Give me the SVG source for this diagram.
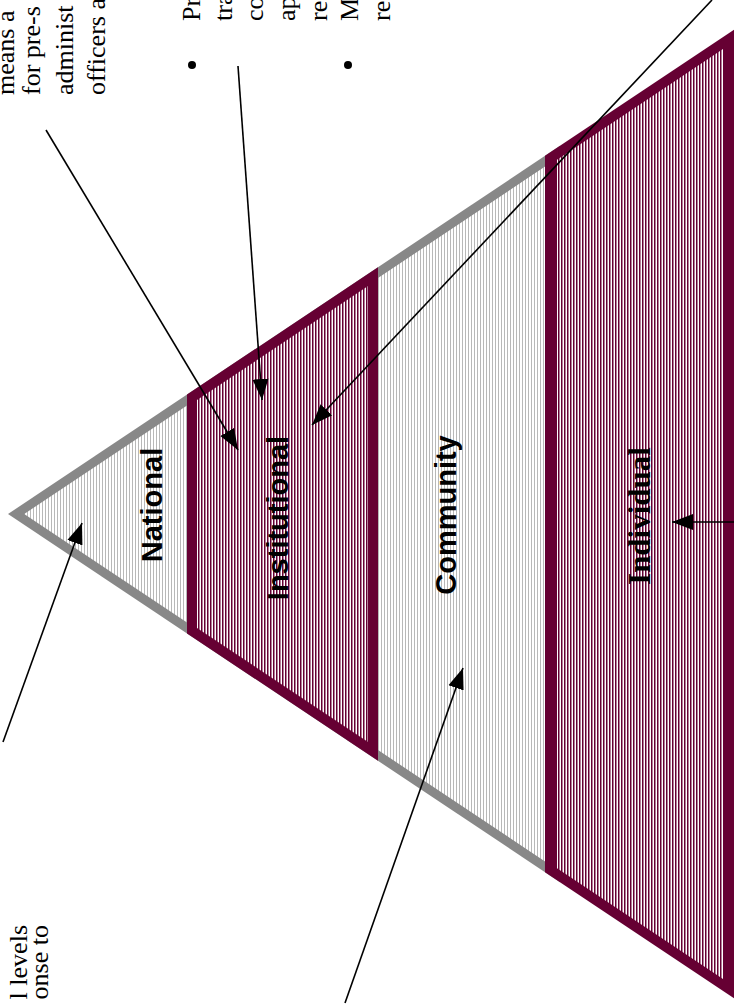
<svg xmlns="http://www.w3.org/2000/svg" width="734" height="1005" viewBox="0 0 734 1005">
<style>
.lbl{font-family:"Liberation Sans",Arial,sans-serif;font-weight:bold;font-size:29px;fill:#000}
.lbls{font-family:"Liberation Serif","Times New Roman",serif;font-weight:bold;font-size:31px;fill:#000}
.note{font-family:"Liberation Serif","Times New Roman",serif;font-size:26px;fill:#000}
.arr{stroke:#000;stroke-width:1.6;fill:none;marker-end:url(#ah)}
</style>
<defs>
<pattern id="gh" width="3" height="10" patternUnits="userSpaceOnUse"><rect width="3" height="10" fill="#fff"/><rect width="1" height="10" fill="#b8b8b8"/></pattern>
<pattern id="mh" width="3" height="10" patternUnits="userSpaceOnUse"><rect width="3" height="10" fill="#fff"/><rect width="1.5" height="10" fill="#660033"/></pattern>
<marker id="ah" markerUnits="userSpaceOnUse" markerWidth="22" markerHeight="18" viewBox="0 0 22 18" refX="21" refY="9" orient="auto"><path d="M0,1 L21,9 L0,17 z" fill="#000"/></marker>
</defs>
<rect width="734" height="1005" fill="#fff"/>
<g id="pyramid">
<polygon points="8,514 560,145.8 560,882.2" fill="#888"/>
<polygon points="24.2,514 560,156.6 560,871.4" fill="url(#gh)"/>
</g>
<g id="national"><text class="lbl" transform="rotate(-90)" x="-505" y="162" text-anchor="middle">National</text></g>
<g id="institutional">
<polygon points="187,394.6 378,267.2 378,760.8 187,633.4" fill="#660033"/>
<polygon points="197,400 368,285.9 368,742.1 197,628" fill="url(#mh)"/>
<text class="lbl" transform="rotate(-90)" x="-518" y="288" text-anchor="middle">Institutional</text>
</g>
<g id="community"><text class="lbl" transform="rotate(-90)" x="-515" y="456" text-anchor="middle">Community</text></g>
<g id="individual">
<polygon points="545,155.8 740,25.7 740,1002.3 545,872.2" fill="#660033"/>
<polygon points="557,159.8 723,49.1 723,978.9 557,868.2" fill="url(#mh)"/>
<text class="lbls" transform="rotate(-90)" x="-516" y="650" text-anchor="middle">Individual</text>
</g>
<g id="notes" class="note" transform="rotate(-90)">
<text x="-95" y="14">means a</text>
<text x="-95" y="40">for pre-s</text>
<text x="-95" y="73">administ</text>
<text x="-95" y="105">officers a</text>
<text x="-21" y="200">Pr</text>
<text x="-21" y="231.7">tra</text>
<text x="-21" y="263.3">co</text>
<text x="-21" y="295">ap</text>
<text x="-21" y="326.7">re</text>
<text x="-21" y="358.3">M</text>
<text x="-21" y="390">re</text>
<text x="-925" y="27" text-anchor="end">l levels</text>
<text x="-925" y="48" text-anchor="end">onse to</text>
</g>
<g id="bullets">
<circle cx="192" cy="65" r="4"/>
<circle cx="348" cy="65" r="4"/>
</g>
<g id="connectors">
<line class="arr" x1="46" y1="130" x2="238" y2="450"/>
<line class="arr" x1="238" y1="66" x2="262" y2="400"/>
<line class="arr" x1="712" y1="0" x2="312" y2="425"/>
<line class="arr" x1="345" y1="1003" x2="463" y2="668"/>
<line class="arr" x1="3" y1="742" x2="82" y2="523"/>
<line class="arr" x1="734" y1="522" x2="672" y2="522"/>
</g>
</svg>
